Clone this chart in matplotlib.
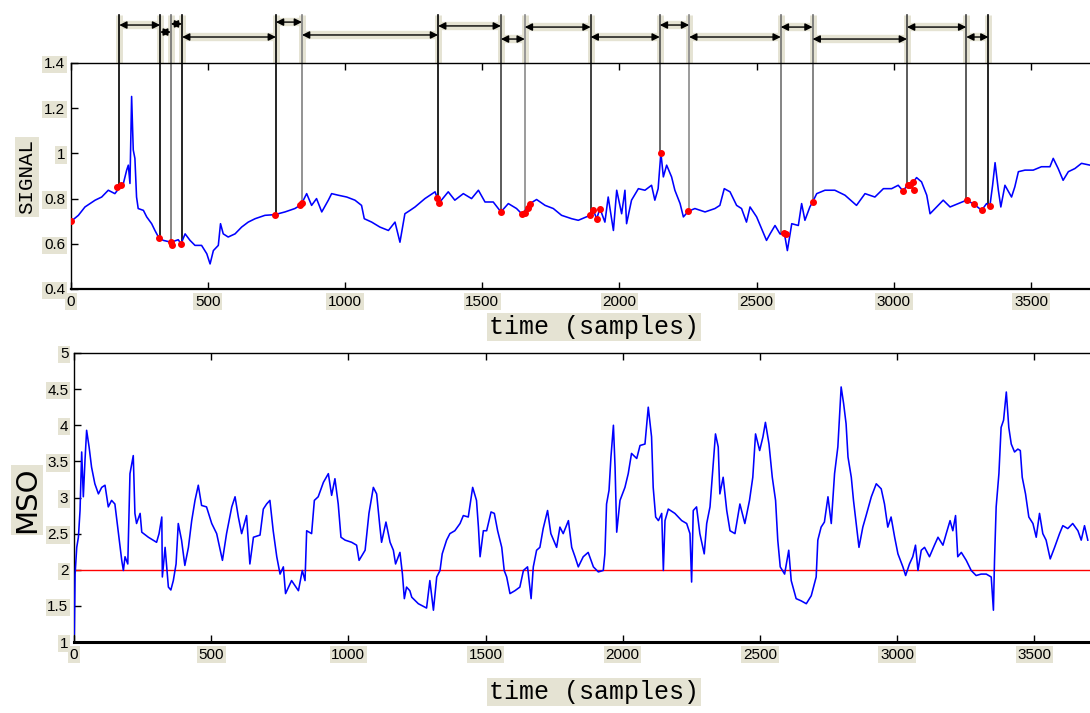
import matplotlib
matplotlib.use("Agg")
import matplotlib.pyplot as plt

# ---------------- data ----------------
sig_x = [1, 28, 52, 89, 113, 137, 161, 180, 192, 204, 210, 216, 222, 228, 234, 240, 246, 265, 277, 295,
         307, 322, 338, 366, 392, 402, 417, 435, 453, 477, 496, 508, 520, 538, 546, 556, 574, 599, 623, 647,
         672, 708, 744, 781, 817, 836, 848, 860, 878, 896, 915, 939, 951, 975, 1006, 1036, 1060, 1070, 1097, 1127,
         1158, 1182, 1200, 1218, 1237, 1255, 1291, 1328, 1336, 1343, 1376, 1400, 1431, 1461, 1486, 1510, 1540, 1568, 1595, 1625,
         1646, 1674, 1698, 1729, 1759, 1789, 1826, 1850, 1880, 1893, 1905, 1917, 1929, 1947, 1959, 1978, 1990, 2008, 2020, 2026,
         2044, 2069, 2093, 2117, 2129, 2141, 2151, 2160, 2172, 2190, 2202, 2221, 2233, 2251, 2275, 2312, 2348, 2366, 2382, 2403,
         2427, 2445, 2463, 2476, 2500, 2518, 2536, 2549, 2567, 2585, 2601, 2612, 2628, 2652, 2664, 2676, 2694, 2704, 2719, 2749,
         2785, 2822, 2864, 2895, 2931, 2962, 2992, 3016, 3034, 3050, 3071, 3083, 3101, 3120, 3132, 3156, 3180, 3205, 3235, 3265,
         3293, 3320, 3338, 3350, 3360, 3369, 3381, 3390, 3405, 3429, 3441, 3454, 3478, 3508, 3538, 3569, 3581, 3599, 3617, 3636,
         3660, 3684, 3715]
sig_y = [0.699, 0.726, 0.763, 0.793, 0.807, 0.837, 0.822, 0.852, 0.867, 0.926, 0.948, 0.867, 1.252, 1.015, 0.978, 0.807, 0.756, 0.748, 0.719, 0.689,
         0.659, 0.625, 0.615, 0.607, 0.618, 0.600, 0.644, 0.615, 0.593, 0.593, 0.556, 0.511, 0.570, 0.593, 0.689, 0.644, 0.630, 0.644, 0.674, 0.696,
         0.711, 0.726, 0.729, 0.741, 0.756, 0.770, 0.793, 0.822, 0.770, 0.800, 0.741, 0.793, 0.822, 0.815, 0.807, 0.793, 0.770, 0.711, 0.696, 0.674,
         0.659, 0.696, 0.607, 0.733, 0.748, 0.763, 0.800, 0.830, 0.803, 0.781, 0.830, 0.793, 0.822, 0.800, 0.837, 0.785, 0.785, 0.741, 0.778, 0.756,
         0.730, 0.778, 0.796, 0.770, 0.756, 0.726, 0.711, 0.704, 0.719, 0.726, 0.748, 0.711, 0.756, 0.696, 0.807, 0.659, 0.837, 0.733, 0.837, 0.689,
         0.793, 0.844, 0.837, 0.859, 0.793, 0.844, 1.003, 0.896, 0.948, 0.896, 0.837, 0.778, 0.719, 0.744, 0.756, 0.741, 0.756, 0.770, 0.844, 0.830,
         0.770, 0.756, 0.696, 0.763, 0.719, 0.667, 0.615, 0.644, 0.681, 0.644, 0.647, 0.570, 0.689, 0.681, 0.778, 0.704, 0.763, 0.785, 0.822, 0.837,
         0.837, 0.815, 0.770, 0.822, 0.807, 0.844, 0.844, 0.859, 0.833, 0.862, 0.874, 0.893, 0.874, 0.815, 0.733, 0.763, 0.793, 0.763, 0.778, 0.793,
         0.775, 0.748, 0.778, 0.766, 0.859, 0.959, 0.837, 0.763, 0.859, 0.807, 0.852, 0.919, 0.926, 0.926, 0.941, 0.941, 0.978, 0.933, 0.881, 0.919,
         0.933, 0.956, 0.948]

mso_x = [1, 4, 10, 16, 22, 28, 34, 40, 46, 55, 64, 76, 89, 101, 113, 125, 137, 149, 162, 174,
         180, 186, 196, 204, 216, 222, 228, 241, 247, 271, 301, 310, 320, 322, 332, 344, 353, 362, 372, 380,
         392, 404, 417, 429, 441, 453, 465, 483, 502, 520, 541, 556, 575, 587, 599, 611, 629, 641, 654, 678,
         690, 702, 714, 726, 739, 751, 763, 771, 793, 818, 832, 842, 848, 866, 876, 890, 909, 927, 939, 951,
         963, 973, 988, 1012, 1030, 1039, 1061, 1075, 1091, 1103, 1115, 1121, 1137, 1152, 1164, 1172, 1188, 1197, 1204, 1212,
         1224, 1231, 1255, 1285, 1297, 1310, 1322, 1334, 1342, 1358, 1370, 1388, 1407, 1419, 1437, 1453, 1467, 1474, 1480, 1492,
         1504, 1520, 1532, 1544, 1559, 1568, 1577, 1589, 1607, 1625, 1638, 1653, 1666, 1674, 1686, 1698, 1710, 1726, 1738, 1759,
         1771, 1783, 1802, 1814, 1826, 1838, 1856, 1874, 1893, 1911, 1929, 1935, 1941, 1950, 1957, 1966, 1972, 1978, 1990, 2008,
         2020, 2032, 2051, 2063, 2081, 2093, 2105, 2111, 2120, 2130, 2142, 2148, 2154, 2166, 2190, 2215, 2233, 2245, 2251, 2257,
         2269, 2281, 2297, 2306, 2318, 2330, 2338, 2348, 2354, 2366, 2379, 2391, 2409, 2427, 2445, 2462, 2474, 2484, 2499, 2511,
         2520, 2533, 2545, 2557, 2565, 2574, 2590, 2605, 2614, 2632, 2650, 2669, 2687, 2705, 2711, 2723, 2735, 2748, 2760, 2772,
         2784, 2796, 2805, 2814, 2821, 2833, 2841, 2851, 2861, 2875, 2887, 2906, 2924, 2942, 2954, 2966, 2978, 2991, 3003, 3021,
         3031, 3045, 3057, 3067, 3076, 3088, 3100, 3118, 3136, 3149, 3167, 3179, 3193, 3203, 3213, 3221, 3234, 3252, 3270, 3288,
         3306, 3325, 3343, 3351, 3355, 3361, 3371, 3379, 3388, 3398, 3407, 3416, 3428, 3440, 3449, 3456, 3468, 3480, 3495, 3507,
         3519, 3531, 3543, 3558, 3574, 3592, 3604, 3622, 3640, 3659, 3671, 3683, 3695]
mso_y = [1.11, 1.94, 2.31, 2.45, 2.82, 3.63, 3.01, 3.51, 3.93, 3.70, 3.42, 3.19, 3.05, 3.14, 3.17, 2.87, 2.96, 2.91, 2.50, 2.13,
         1.99, 2.18, 2.08, 3.33, 3.58, 2.78, 2.64, 2.78, 2.52, 2.45, 2.38, 2.50, 2.73, 1.90, 2.31, 1.76, 1.72, 1.85, 2.08, 2.64,
         2.41, 2.06, 2.31, 2.68, 2.96, 3.17, 2.89, 2.87, 2.64, 2.50, 2.13, 2.50, 2.87, 3.01, 2.73, 2.50, 2.75, 2.08, 2.45, 2.48,
         2.84, 2.91, 2.96, 2.54, 2.18, 1.94, 2.04, 1.67, 1.85, 1.71, 1.99, 1.85, 2.54, 2.50, 2.96, 3.01, 3.21, 3.33, 3.03, 3.26,
         2.91, 2.45, 2.41, 2.38, 2.34, 2.13, 2.27, 2.78, 3.14, 3.05, 2.59, 2.38, 2.66, 2.38, 2.27, 2.08, 2.24, 1.94, 1.60, 1.76,
         1.71, 1.62, 1.53, 1.47, 1.85, 1.44, 1.90, 1.99, 2.22, 2.41, 2.50, 2.54, 2.64, 2.75, 2.73, 3.14, 2.96, 2.59, 2.18, 2.54,
         2.54, 2.80, 2.78, 2.54, 2.31, 1.99, 1.90, 1.67, 1.71, 1.76, 1.99, 2.04, 1.60, 2.04, 2.27, 2.31, 2.57, 2.82, 2.50, 2.31,
         2.59, 2.50, 2.68, 2.31, 2.18, 2.04, 2.18, 2.24, 2.04, 1.97, 1.99, 2.22, 2.91, 3.10, 3.56, 4.00, 3.42, 2.52, 2.96, 3.14,
         3.33, 3.61, 3.54, 3.72, 3.74, 4.25, 3.84, 3.14, 2.73, 2.68, 2.78, 1.99, 2.68, 2.84, 2.78, 2.68, 2.64, 2.50, 1.83, 2.82,
         2.87, 2.50, 2.22, 2.64, 2.87, 3.47, 3.88, 3.70, 3.05, 3.28, 2.82, 2.54, 2.50, 2.91, 2.64, 2.96, 3.28, 3.88, 3.65, 3.84,
         4.04, 3.74, 3.28, 2.96, 2.41, 2.04, 1.94, 2.27, 1.85, 1.60, 1.57, 1.53, 1.64, 1.90, 2.41, 2.59, 2.66, 3.01, 2.64, 3.33,
         3.70, 4.53, 4.30, 4.02, 3.56, 3.28, 2.96, 2.64, 2.31, 2.59, 2.75, 3.01, 3.19, 3.12, 2.91, 2.59, 2.73, 2.45, 2.22, 2.04,
         1.92, 2.08, 2.18, 2.34, 1.99, 2.27, 2.31, 2.18, 2.34, 2.45, 2.34, 2.50, 2.68, 2.54, 2.75, 2.18, 2.24, 2.13, 1.99, 1.92,
         1.94, 1.94, 1.90, 1.44, 2.13, 2.87, 3.33, 3.97, 4.07, 4.46, 3.97, 3.74, 3.63, 3.67, 3.65, 3.28, 3.05, 2.73, 2.64, 2.45,
         2.78, 2.50, 2.41, 2.15, 2.31, 2.50, 2.61, 2.57, 2.64, 2.54, 2.41, 2.61, 2.41]

mso_threshold = 2.0

# segment boundaries (samples) and signal level where each boundary line starts
boundaries = [177, 326, 365, 406, 748, 843, 1339, 1568, 1655, 1895, 2147, 2254, 2588, 2704, 3048, 3264, 3345]
boundary_levels = [0.85, 0.625, 0.605, 0.60, 0.73, 0.775, 0.80, 0.74, 0.73, 0.725, 1.0, 0.745, 0.645, 0.785, 0.86, 0.79, 0.77]
# height (signal units, above the axes) of the double arrow between consecutive boundaries
arrow_levels = [1.568, 1.537, 1.573, 1.515, 1.581, 1.524, 1.564, 1.506, 1.559, 1.515, 1.568, 1.515, 1.559, 1.506, 1.559, 1.515]
line_top = 1.612

# detected points (red)
red_x = [1, 170, 185, 322, 366, 369, 402, 744, 836, 843, 1336, 1343, 1568, 1646, 1655, 1665, 1674, 1893, 1905, 1917,
         1929, 2151, 2251, 2601, 2608, 2704, 3034, 3050, 3058, 3071, 3075, 3265, 3293, 3320, 3350]
red_y = [0.70, 0.85, 0.86, 0.625, 0.607, 0.595, 0.60, 0.729, 0.77, 0.78, 0.803, 0.781, 0.741, 0.730, 0.735, 0.76, 0.778, 0.726, 0.748, 0.711,
         0.756, 1.003, 0.744, 0.647, 0.645, 0.785, 0.833, 0.862, 0.86, 0.874, 0.84, 0.793, 0.775, 0.748, 0.766]

# ---------------- styles ----------------
boundary_colors = ['#000000', '#000000', '#707070', '#000000', '#000000', '#808080', '#000000', '#404040', '#8a8a8a',
                   '#202020', '#505050', '#8a8a8a', '#707070', '#707070', '#404040', '#404040', '#000000']
BEIGE = '#e5e3d3'
tick_font = dict(family='Liberation Sans', size=11)

W, H = 1090, 713
fig = plt.figure(figsize=(W / 100, H / 100), dpi=100)

ax1 = fig.add_axes([70.7 / W, 1 - 289 / H, (W - 70.7) / W, (289 - 63) / H])
ax2 = fig.add_axes([74 / W, 1 - 642 / H, (W - 74) / W, (642 - 353) / H])


def style_axes(ax, xlim, ylim, yticks, yfmt, bottom_lw):
    ax.set_xlim(*xlim)
    ax.set_ylim(*ylim)
    ax.set_xticks(range(0, 4000, 500))
    ax.set_yticks(yticks)
    ax.set_yticklabels([yfmt(v) for v in yticks])
    ax.tick_params(direction='in', length=5, width=1, top=True, right=False, pad=4)
    ax.spines['right'].set_visible(False)
    for s in ['left', 'top']:
        ax.spines[s].set_linewidth(1.0)
    ax.spines['bottom'].set_linewidth(bottom_lw)
    for lab in ax.get_xticklabels() + ax.get_yticklabels():
        lab.set_fontfamily(tick_font['family'])
        lab.set_fontsize(tick_font['size'])
        lab.set_bbox(dict(facecolor=BEIGE, edgecolor='none', pad=1.2))


def fmt_g(v):
    return ('%g' % v)


style_axes(ax1, (0, 3715), (0.4, 1.4), [0.4, 0.6, 0.8, 1.0, 1.2, 1.4], fmt_g, 1.6)
style_axes(ax2, (0, 3703), (1, 5), [1, 1.5, 2, 2.5, 3, 3.5, 4, 4.5, 5], fmt_g, 2.2)

# ---- top panel ----
ax1.plot(sig_x, sig_y, color='#0000ff', lw=1.15, zorder=3)

for b, lvl, c in zip(boundaries, boundary_levels, boundary_colors):
    ax1.plot([b, b], [1.4, line_top], color=BEIGE, lw=5, clip_on=False, zorder=1, solid_capstyle='butt')
    ax1.plot([b, b], [lvl, line_top], color=c, lw=1.2, clip_on=False, zorder=2)

for i, h in enumerate(arrow_levels):
    x0, x1 = boundaries[i], boundaries[i + 1]
    ax1.plot([x0, x1], [h, h], color=BEIGE, lw=6, clip_on=False, zorder=1, solid_capstyle='butt')
    ax1.annotate('', xy=(x1, h), xytext=(x0, h), xycoords='data', textcoords='data',
                 arrowprops=dict(arrowstyle='<|-|>', color='black', lw=1.0, shrinkA=0, shrinkB=0,
                                 mutation_scale=11),
                 annotation_clip=False, zorder=4)

ax1.plot(red_x, red_y, linestyle='none', marker='o', markersize=4, color='#ff0000',
         markeredgecolor='#ff0000', zorder=5)

# ---- bottom panel ----
ax2.plot(mso_x, mso_y, color='#0000ff', lw=1.15, zorder=3)
ax2.axhline(mso_threshold, color='#ff0000', lw=1.0, zorder=2)

# ---- labels ----
lab_box = dict(facecolor=BEIGE, edgecolor='none', pad=1.5)
fig.text(27 / W, 1 - 177 / H, 'SIGNAL', rotation=90, ha='center', va='center',
         family='Liberation Mono', fontsize=15, bbox=lab_box)
fig.text(27 / W, 1 - 500 / H, 'MSO', rotation=90, ha='center', va='center',
         family='DejaVu Sans', fontsize=21, bbox=lab_box)
fig.text(594 / W, 1 - 327 / H, 'time (samples)', ha='center', va='center',
         family='Liberation Mono', fontsize=18, bbox=lab_box)
fig.text(594 / W, 1 - 692 / H, 'time (samples)', ha='center', va='center',
         family='Liberation Mono', fontsize=18, bbox=lab_box)

fig.savefig('out.png', dpi=100)
